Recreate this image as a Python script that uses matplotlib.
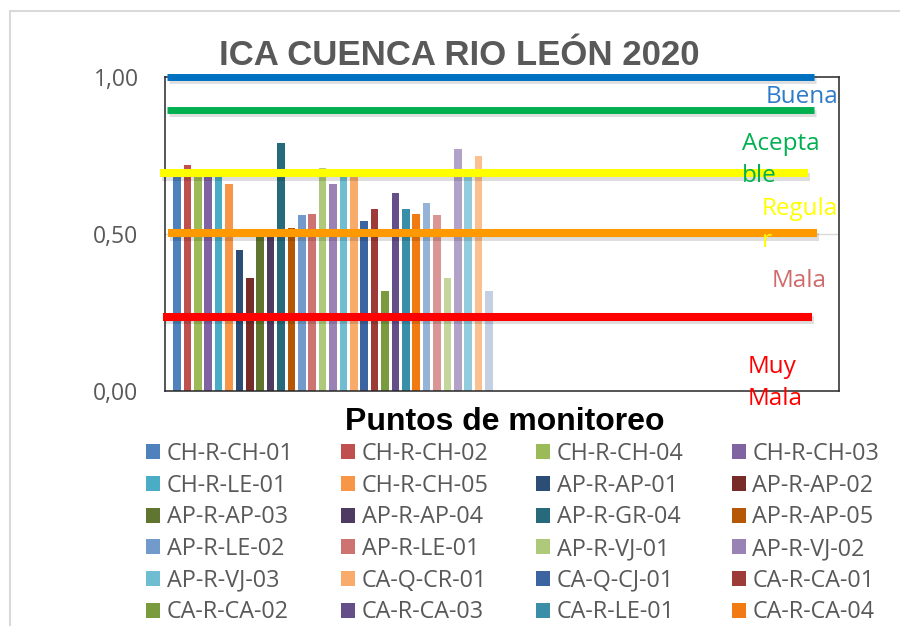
import numpy as np
import matplotlib
matplotlib.use("Agg")
import matplotlib.pyplot as plt
import matplotlib.patheffects as pe
from matplotlib.patches import Patch, Rectangle

# ICA por punto de monitoreo (31 series; la leyenda del original solo muestra 24)
STATIONS = [
    "CH-R-CH-01", "CH-R-CH-02", "CH-R-CH-04", "CH-R-CH-03",
    "CH-R-LE-01", "CH-R-CH-05", "AP-R-AP-01", "AP-R-AP-02",
    "AP-R-AP-03", "AP-R-AP-04", "AP-R-GR-04", "AP-R-AP-05",
    "AP-R-LE-02", "AP-R-LE-01", "AP-R-VJ-01", "AP-R-VJ-02",
    "AP-R-VJ-03", "CA-Q-CR-01", "CA-Q-CJ-01", "CA-R-CA-01",
    "CA-R-CA-02", "CA-R-CA-03", "CA-R-LE-01", "CA-R-CA-04",
]
ICA_VALUES = [
    0.70, 0.72, 0.70, 0.70, 0.70, 0.66, 0.45, 0.36,
    0.50, 0.50, 0.79, 0.52, 0.56, 0.565, 0.71, 0.66,
    0.70, 0.70, 0.54, 0.58, 0.32, 0.63, 0.58, 0.565,
    0.60, 0.56, 0.36, 0.77, 0.70, 0.75, 0.32,
]
BAR_COLORS = [
    "#4F81BD", "#C0504D", "#9BBB59", "#8064A2", "#4BACC6", "#F79646",
    "#2C4D75", "#772C2A", "#5F7530", "#4D3B62", "#276A7C", "#B65708",
    "#729ACA", "#CD7371", "#AFC97A", "#9983B5", "#6FBDD1", "#F9AB6B",
    "#3B64A0", "#9C3B38", "#7A9A3E", "#654F88", "#3A8EA8", "#F27A12",
    "#95B3D7", "#D99694", "#C3D69B", "#B3A2C7", "#93CDDD", "#FAC090",
    "#C4CFE4",
]

# umbrales de calidad
BAND_LEVELS = [1.00, 0.895, 0.693, 0.502, 0.236]
BAND_COLORS = ["#0070C0", "#00B050", "#FFFF00", "#FF9900", "#FF0000"]
BAND_LABELS = ["Buena", "Acepta\nble", "Regula\nr", "Mala", "Muy\nMala"]
BAND_TEXT_COLORS = ["#2E7BC9", "#00B050", "#FFFF00", "#CF6B6B", "#FF0000"]

W, H = 900, 626


def fx(px):
    return px / W


def fy(py):
    return 1 - py / H


fig = plt.figure(figsize=(9, 6.26), dpi=100)
fig.patches.append(Rectangle((fx(10), -0.1), 1.2, fy(11) + 0.1, transform=fig.transFigure,
                             fill=False, edgecolor="#D9D9D9", lw=1.5))

ax = fig.add_axes([fx(165), fy(391), fx(839 - 165), (391 - 77) / H])

x = np.arange(len(ICA_VALUES))
handles = []
for i, (v, c) in enumerate(zip(ICA_VALUES, BAR_COLORS)):
    label = STATIONS[i] if i < len(STATIONS) else "_hidden"
    ax.bar(x[i], v, width=0.72, color=c, zorder=2, label=label)
    if i < len(STATIONS):
        handles.append(Patch(facecolor=c, label=label))

ax.set_xlim(-1.15, -1.15 + 674 / 10.4)
ax.set_ylim(0, 1.0)
ax.set_xticks([])
ax.set_yticks([0, 0.5, 1.0])
ax.set_yticklabels(["0,00", "0,50", "1,00"], family="Open Sans")
ax.tick_params(axis="y", length=0, pad=19, labelcolor="#595959", labelsize=16.5)
ax.axhline(0.5, color="#D9D9D9", lw=1, zorder=0)
for s in ax.spines.values():
    s.set_color("#262626")
    s.set_linewidth(1.1)

# lineas de umbral (x en fraccion del eje)
line_spans = [(0.003, 0.963), (0.003, 0.963), (-0.007, 0.954), (0.004, 0.967), (-0.003, 0.960)]
line_widths = [5.0, 5.0, 5.8, 5.8, 5.8]
for lvl, col, (x0, x1), lw in zip(BAND_LEVELS, BAND_COLORS, line_spans, line_widths):
    ax.plot([x0, x1], [lvl, lvl], color=col, lw=lw, transform=ax.get_yaxis_transform(),
            clip_on=False, solid_capstyle="butt", zorder=4,
            path_effects=[pe.SimpleLineShadow(offset=(1.5, -2.5), shadow_color="black", alpha=0.13),
                          pe.Normal()])

# posicion en pixeles: borde izquierdo y linea base de la ultima linea
label_pos = [(766, 103), (742, 182), (762, 247), (772, 287), (748, 405)]
for txt, col, (px, py) in zip(BAND_LABELS, BAND_TEXT_COLORS, label_pos):
    fig.text(fx(px), fy(py), txt, color=col, fontsize=17.5, family="Open Sans",
             ha="left", va="baseline", linespacing=1.45, zorder=6)

fig.text(fx(459), fy(65), "ICA CUENCA RIO LEÓN 2020", color="#595959", fontsize=25,
         fontweight="bold", family="Liberation Sans", ha="center", va="baseline")
fig.text(fx(505), fy(430), "Puntos de monitoreo", color="black", fontsize=23,
         fontweight="bold", family="Liberation Sans", ha="center", va="baseline")

# Excel rellena la leyenda por filas
nrow, ncol = 6, 4
order = [(k % nrow) * ncol + k // nrow for k in range(nrow * ncol)]
leg_handles = [handles[j] for j in order]
fig.legend(handles=leg_handles, labels=[h.get_label() for h in leg_handles],
           ncol=ncol, loc="upper left", bbox_to_anchor=(fx(146), fy(442)),
           frameon=False, borderpad=0, borderaxespad=0,
           prop={"family": "Open Sans", "size": 16.8},
           labelcolor="#595959", handlelength=0.6, handleheight=0.6,
           handletextpad=0.28, columnspacing=2.05, labelspacing=0.33)

fig.savefig("out.png", dpi=100)
